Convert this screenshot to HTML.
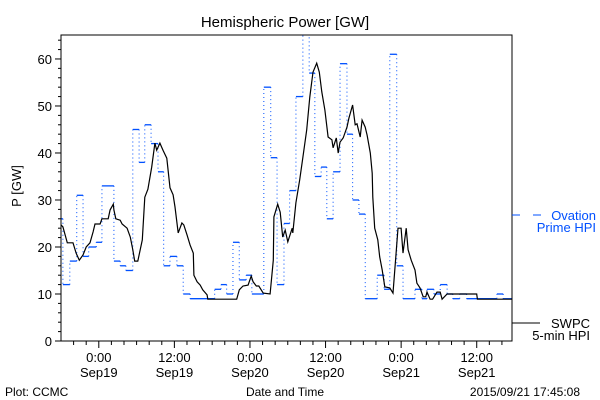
<!DOCTYPE html>
<html><head><meta charset="utf-8"><style>
body{margin:0;background:#fff;}
svg{display:block;font-family:"Liberation Sans",sans-serif;}
</style></head><body>
<svg id="chart" width="600" height="400">
<text x="285" y="27" font-size="15" text-anchor="middle">Hemispheric Power [GW]</text>
<text x="21" y="186" font-size="13" text-anchor="middle" transform="rotate(-90 21 186)">P [GW]</text>
<text x="5" y="396" font-size="12">Plot: CCMC</text>
<text x="285" y="396" font-size="12" text-anchor="middle">Date and Time</text>
<text x="580" y="396" font-size="12" text-anchor="end">2015/09/21 17:45:08</text>
<defs><clipPath id="pc"><rect x="61" y="35" width="451" height="306"/></clipPath></defs>
<g id="ticks"></g>
<g id="marks" clip-path="url(#pc)"></g>
<rect x="61" y="35" width="451" height="306" fill="none" stroke="#000" stroke-width="1"/>
<g>
<line x1="512" y1="215" x2="520" y2="215" stroke="#0050ff"/>
<line x1="533" y1="215" x2="541" y2="215" stroke="#0050ff"/>
<text x="596" y="220" font-size="13" fill="#0050ff" text-anchor="end">Ovation</text>
<text x="596" y="232" font-size="13" fill="#0050ff" text-anchor="end">Prime HPI</text>
<line x1="512" y1="323" x2="540" y2="323" stroke="#000"/>
<text x="590" y="328" font-size="13" text-anchor="end">SWPC</text>
<text x="590" y="340" font-size="13" text-anchor="end">5-min HPI</text>
</g>
</svg>
<script>
const swpcHours=[18.0,18.3,19.0,19.9,20.4,20.9,21.5,22.0,22.6,23.1,23.4,24.2,24.5,25.5,25.8,26.3,26.4,26.7,27.4,27.7,28.5,29.0,29.4,29.7,30.2,30.9,31.3,31.8,32.4,32.9,33.2,33.7,34.2,34.8,35.3,35.8,36.1,36.6,37.2,37.5,38.0,38.5,39.0,39.1,39.6,40.1,40.5,41.2,41.3,45.9,46.3,46.9,47.7,48.2,48.5,49.0,49.4,50.1,51.2,51.7,51.8,52.4,52.8,53.2,53.6,54.0,54.7,54.8,55.3,55.9,56.4,57.0,57.5,58.0,58.6,59.0,59.4,59.9,60.4,61.0,61.2,61.7,62.0,62.3,62.8,63.4,63.7,64.3,64.7,65.0,65.5,65.8,66.3,66.6,67.1,67.4,67.5,67.8,68.3,68.6,69.0,69.4,70.2,70.7,71.2,71.5,72.0,72.3,72.8,73.1,73.6,74.2,74.5,75.0,75.5,75.9,76.1,76.6,77.0,77.7,78.2,78.5,79.3,84.0,84.1,89.6];
const swpcValues=[24.7,24.3,20.9,20.9,18.7,17.2,18.3,20.0,20.9,23.2,24.9,24.9,26.0,26.0,27.9,29.1,27.9,26.0,25.7,24.9,24.0,22.1,19.4,17.0,17.0,21.5,30.6,32.3,37.0,42.1,40.6,42.1,40.6,38.9,32.6,31.1,28.5,23.0,25.1,24.7,22.6,20.4,18.7,14.0,12.6,11.9,10.9,9.8,8.9,8.9,10.9,11.7,11.9,13.8,12.6,11.7,11.7,10.2,10.0,17.2,26.4,29.1,27.4,22.1,23.6,21.1,24.0,23.0,29.4,34.3,39.1,44.9,51.9,57.2,59.1,57.2,53.0,49.1,43.4,42.8,41.1,43.2,40.0,42.3,43.2,45.5,47.4,50.2,46.0,46.2,43.4,47.0,45.5,43.8,40.0,35.7,30.6,24.0,21.5,17.9,15.1,11.5,11.3,10.2,18.7,24.0,24.0,18.7,24.0,19.4,17.2,15.1,12.3,11.3,9.4,9.4,10.4,8.9,8.9,10.4,10.4,8.9,10.0,10.0,8.9,8.9];
const ovationStarts=[18.0,18.3,19.4,20.5,21.5,22.4,23.6,24.5,26.4,27.4,28.3,29.4,30.4,31.3,32.3,33.4,34.3,35.3,36.4,37.4,38.5,42.4,43.4,44.3,45.3,46.3,47.4,48.3,50.2,51.3,52.3,53.4,54.3,55.3,56.4,57.4,58.3,59.3,60.2,61.2,62.3,63.4,64.3,65.3,66.3,68.2,69.3,70.2,71.3,72.3,74.2,75.3,76.1,77.2,78.2,79.3,80.2,81.3,82.4,87.2,88.2];
const ovationValues=[26,12,17,31,18,20,21,33,17,16,15,45,38,46,42,36,16,18,16,10,9,11,12,10,21,13,14,10,54,39,12,25,32,52,68,57,35,37,26,36,59,44,30,27,9,14,11,61,16,9,11,9,11,10,12,10,9,10,9,10,9];
const ovationEnd=89.6;
const yTicks=[0,10,20,30,40,50,60];
const xTickHours=[24,36,48,60,72,84];
const xTickTimes=["0:00","12:00","0:00","12:00","0:00","12:00"];
const xTickDates=["Sep19","Sep19","Sep20","Sep20","Sep21","Sep21"];
const xMin=18,xMax=89.6,yMin=0,yMax=65.1;
const L=61,R=512,T=35,B=341;
const X=h=>L+(h-xMin)/(xMax-xMin)*(R-L);
const Y=v=>B-(v-yMin)/(yMax-yMin)*(B-T);
const NS="http://www.w3.org/2000/svg";
function mk(tag,attrs,parent){const e=document.createElementNS(NS,tag);for(const k in attrs)e.setAttribute(k,attrs[k]);parent.appendChild(e);return e;}
const ticks=document.getElementById('ticks'),marks=document.getElementById('marks');
// y ticks
for(let v=0;v<=64;v+=2){const major=v%10===0;const t=mk('line',{x1:L-(major?6:3),x2:L,y1:Y(v),y2:Y(v),stroke:'#000'},ticks);

}
yTicks.forEach(v=>{const t=mk('text',{x:L-9,y:Y(v)+5,'font-size':13,'text-anchor':'end'},ticks);t.textContent=v;

});
// x ticks
for(let h=20;h<=88;h+=2){const major=h%12===0;const t=mk('line',{x1:X(h),x2:X(h),y1:B,y2:B+(major?7:4),stroke:'#000'},ticks);

}
xTickHours.forEach((h,i)=>{const a=mk('text',{x:X(h),y:362,'font-size':13,'text-anchor':'middle'},ticks);a.textContent=xTickTimes[i];


const b=mk('text',{x:X(h),y:377,'font-size':13,'text-anchor':'middle'},ticks);b.textContent=xTickDates[i];

});
// ovation
const ov=mk('g',{},marks);


ovationStarts.forEach((s,i)=>{const e=i<ovationStarts.length-1?ovationStarts[i+1]:ovationEnd;
const seg=mk('line',{x1:X(s),x2:X(e),y1:Y(ovationValues[i]),y2:Y(ovationValues[i]),stroke:'#0050ff','stroke-width':1.3},ov);


if(i<ovationStarts.length-1){const d=mk('line',{x1:X(e),x2:X(e),y1:Y(ovationValues[i]),y2:Y(ovationValues[i+1]),stroke:'#0050ff','stroke-width':1,'stroke-dasharray':'1 3'},ov);

}});
// swpc
const p=mk('polyline',{points:swpcHours.map((h,i)=>X(h).toFixed(1)+','+Y(swpcValues[i]).toFixed(1)).join(' '),fill:'none',stroke:'#000','stroke-width':1.2},marks);


</script>
</body></html>
